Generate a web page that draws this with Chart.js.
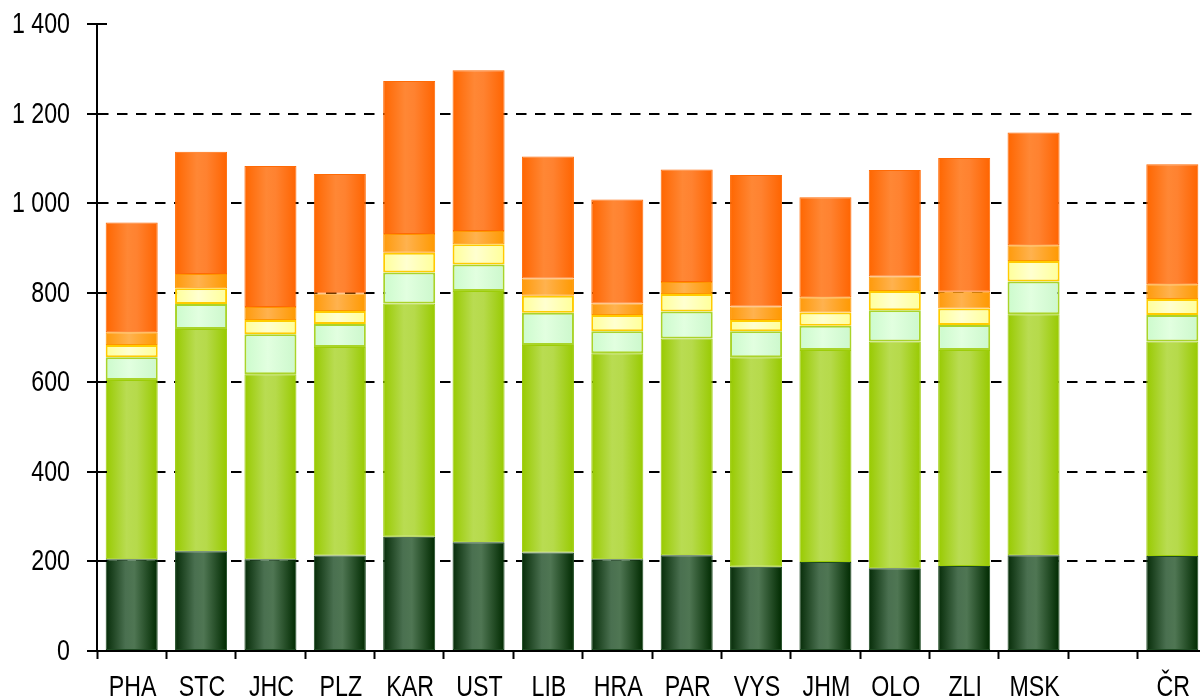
<!DOCTYPE html>
<html>
<head>
<meta charset="utf-8">
<script src="https://cdn.jsdelivr.net/npm/chart.js@4/dist/chart.umd.min.js"></script>
<style>
  html, body { margin: 0; padding: 0; background: #fff; overflow: hidden; }
  #wrap { width: 1207px; height: 710px; }
</style>
</head>
<body>
<div id="wrap"><canvas id="chart" width="1207" height="710"></canvas></div>
<script>
// regions (empty slot before the national total)
const regions = ['PHA', 'STC', 'JHC', 'PLZ', 'KAR', 'UST', 'LIB', 'HRA', 'PAR', 'VYS', 'JHM', 'OLO', 'ZLI', 'MSK', '', 'ČR'];

// stacked segments, bottom to top
const darkGreen   = [205, 223, 205, 213, 255, 243, 220, 205, 214, 188, 199, 185, 190, 214, null, 212];
const lightGreen  = [400, 496, 413, 466, 521, 561, 463, 460, 484, 468, 473, 506, 482, 538, null, 479];
const paleGreen   = [51, 56, 89, 51, 69, 59, 72, 49, 60, 58, 54, 70, 56, 73, null, 59];
const yellow      = [27, 35, 32, 29, 44, 45, 38, 36, 39, 25, 30, 43, 37, 46, null, 36];
const lightOrange = [29, 32, 29, 39, 42, 30, 39, 26, 27, 30, 34, 32, 37, 35, null, 33];
const orange      = [245, 273, 315, 267, 342, 359, 272, 232, 251, 294, 223, 238, 299, 252, null, 268];

const yTicks = [0, 200, 400, 600, 800, 1000, 1200, 1400];

const BAR_PCT = 0.75;
const LABEL_FONT = '29px "Liberation Sans", Arial, sans-serif';
const NARROW = 0.8; // the original uses a narrow face

function fmt(v) {
  return String(v).replace(/\B(?=(\d{3})+(?!\d))/g, ' ');
}

// horizontal "cylinder" shading across each bar
function barFill(stops, flat) {
  return function (ctx) {
    const chart = ctx.chart;
    const xs = chart.scales && chart.scales.x;
    if (ctx.type !== 'data' || !xs) return flat;
    const step = xs.getPixelForValue(1) - xs.getPixelForValue(0);
    const half = step * BAR_PCT / 2;
    const cx = xs.getPixelForValue(ctx.dataIndex);
    if (!isFinite(cx) || !isFinite(half) || half <= 0) return flat;
    const g = chart.ctx.createLinearGradient(cx - half, 0, cx + half, 0);
    stops.forEach(s => g.addColorStop(s[0], s[1]));
    return g;
  };
}

function segment(data, stops, flat, border, borderWidth) {
  return {
    data: data,
    backgroundColor: barFill(stops, flat),
    borderColor: border,
    borderWidth: borderWidth,
    borderSkipped: false,
    barPercentage: BAR_PCT,
    categoryPercentage: 1,
    stack: 'all'
  };
}

const datasets = [
  segment(darkGreen,
    [[0, '#062c08'], [0.38, '#4a7050'], [0.55, '#4f7653'], [1, '#002a00']],
    '#3d6342', '#1e4a22', 1),
  segment(lightGreen,
    [[0, '#98ca00'], [0.4, '#b9dc52'], [0.6, '#b6da4b'], [1, '#98ca00']],
    '#b0d640', '#9dcd08', 1),
  segment(paleGreen,
    [[0, '#ccfbcc'], [0.45, '#e2ffe0'], [1, '#ccf8cc']],
    '#d8ffd8', '#a9d42a', 2),
  segment(yellow,
    [[0, '#ffff99'], [0.45, '#ffffd0'], [1, '#ffff99']],
    '#ffffc0', '#ffcc00', 2),
  segment(lightOrange,
    [[0, '#ff9a0a'], [0.45, '#ffb24f'], [1, '#ff9900']],
    '#ffaa40', '#ff9500', 1),
  segment(orange,
    [[0, '#ff6600'], [0.42, '#ff8735'], [0.6, '#ff8230'], [1, '#ff6400']],
    '#ff7a20', '#ff6a05', 1)
];

// short inner tick marks on the value axis (the top one has no grid line)
const innerTicks = {
  id: 'innerTicks',
  afterDraw(chart) {
    const ys = chart.scales.y;
    const ctx = chart.ctx;
    ctx.save();
    ctx.strokeStyle = '#000';
    ctx.lineWidth = 2;
    yTicks.forEach(v => {
      const py = Math.round(ys.getPixelForValue(v));
      ctx.beginPath();
      ctx.moveTo(ys.right, py);
      ctx.lineTo(ys.right + 10, py);
      ctx.stroke();
    });
    ctx.restore();
  }
};

// tick labels squeezed horizontally to mimic the narrow font
const narrowLabels = {
  id: 'narrowLabels',
  afterDraw(chart) {
    const ctx = chart.ctx;
    const xs = chart.scales.x;
    const ys = chart.scales.y;
    ctx.save();
    ctx.fillStyle = '#000';
    ctx.font = LABEL_FONT;
    ctx.textBaseline = 'alphabetic';

    ctx.textAlign = 'center';
    regions.forEach((lbl, i) => {
      if (!lbl) return;
      const w = ctx.measureText(lbl).width;
      ctx.fillText(lbl, xs.getPixelForValue(i) + 1, xs.top + 45, w * NARROW);
    });

    ctx.textAlign = 'right';
    yTicks.forEach(v => {
      const txt = fmt(v);
      const w = ctx.measureText(txt).width;
      ctx.fillText(txt, ys.right - 27, ys.getPixelForValue(v) + 9, w * NARROW);
    });
    ctx.restore();
  }
};

new Chart(document.getElementById('chart'), {
  type: 'bar',
  data: { labels: regions, datasets: datasets },
  options: {
    responsive: false,
    animation: false,
    layout: { padding: { top: 24, left: 0, right: 0, bottom: 0 } },
    plugins: {
      legend: { display: false },
      tooltip: { enabled: false }
    },
    scales: {
      x: {
        stacked: true,
        afterFit: s => { s.height = 59; },
        grid: {
          offset: true,
          drawOnChartArea: false,
          drawTicks: true,
          tickLength: 8,
          tickColor: '#000',
          tickWidth: 2
        },
        border: { display: true, color: '#000', width: 2 },
        ticks: {
          color: 'rgba(0,0,0,0)',
          maxRotation: 0,
          autoSkip: false,
          font: { size: 8 }
        }
      },
      y: {
        stacked: true,
        min: 0,
        max: 1400,
        afterFit: s => { s.width = 97; },
        afterBuildTicks: s => { s.ticks = yTicks.map(v => ({ value: v })); },
        grid: {
          color: c => (c.tick && (c.tick.value === 1400 || c.tick.value === 0)) ? 'rgba(0,0,0,0)' : '#000',
          lineWidth: 2,
          drawTicks: true,
          tickLength: 10,
          tickColor: '#000',
          tickWidth: 2
        },
        border: { display: true, color: '#000', width: 2, dash: [10.5, 8.5] },
        ticks: {
          color: 'rgba(0,0,0,0)',
          font: { size: 8 },
          callback: v => fmt(v)
        }
      }
    }
  },
  plugins: [innerTicks, narrowLabels]
});
</script>
</body>
</html>
